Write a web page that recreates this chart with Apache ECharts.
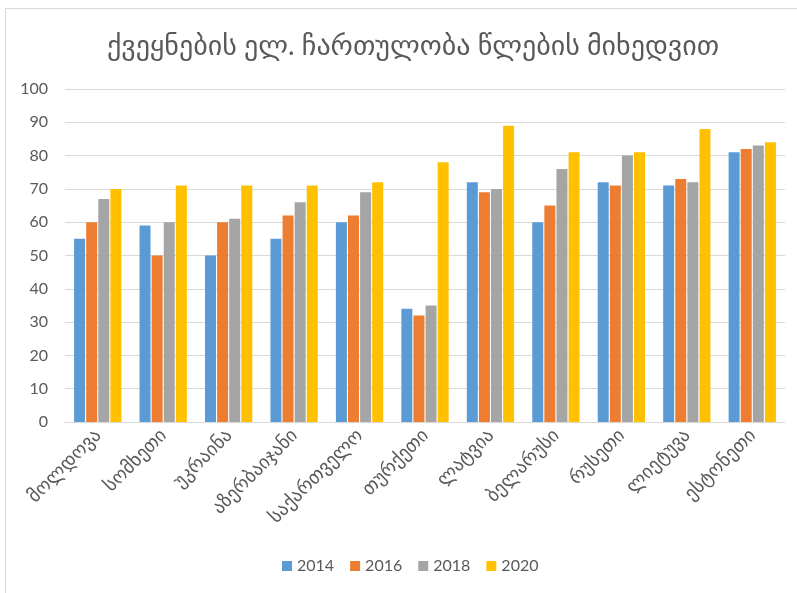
<!DOCTYPE html>
<html>
<head>
<meta charset="utf-8">
<script src="https://cdn.jsdelivr.net/npm/echarts@6/dist/echarts.min.js"></script>
<style>
  html, body { margin: 0; padding: 0; background: #ffffff; }
  #chart { width: 797px; height: 593px; }
</style>
</head>
<body>
<div id="chart"></div>
<script>
// Countries (categories)
const countries = ['მოლდოვა', 'სომხეთი', 'უკრაინა', 'აზერბაიჯანი', 'საქართველო', 'თურქეთი',
                   'ლატვია', 'ბელარუსი', 'რუსეთი', 'ლიეტუვა', 'ესტონეთი'];
const years = ['2014', '2016', '2018', '2020'];

// Engagement values per year
const v2014 = [55, 59, 50, 55, 60, 34, 72, 60, 72, 71, 81];
const v2016 = [60, 50, 60, 62, 62, 32, 69, 65, 71, 73, 82];
const v2018 = [67, 60, 61, 66, 69, 35, 70, 76, 80, 72, 83];
const v2020 = [70, 71, 71, 71, 72, 78, 89, 81, 81, 88, 84];

const colors = ['#5b9bd5', '#ed7d31', '#a5a5a5', '#ffc000'];
const seriesData = [v2014, v2016, v2018, v2020];

const textColor = '#595959';
const fontFam = "Lato, 'DejaVu Sans', sans-serif";

const chart = echarts.init(document.getElementById('chart'), null, { renderer: 'canvas' });
chart.setOption({
  backgroundColor: '#ffffff',
  animation: false,
  color: colors,
  graphic: [{
    type: 'rect',
    shape: { x: 5.5, y: 8.5, width: 900, height: 700 },
    style: { fill: 'none', stroke: '#d9d9d9', lineWidth: 1 },
    silent: true
  }],
  title: {
    text: 'ქვეყნების ელ. ჩართულობა წლების მიხედვით',
    left: 408,
    textAlign: 'center',
    top: 27,
    textStyle: { color: textColor, fontSize: 28, fontWeight: 'normal', fontFamily: fontFam }
  },
  legend: {
    data: years,
    bottom: 14,
    left: 277,
    itemWidth: 10,
    itemHeight: 10,
    itemGap: 16,
    icon: 'rect',
    textStyle: { color: textColor, fontSize: 16, fontFamily: fontFam }
  },
  grid: { left: 65, right: 12, top: 89, bottom: 171, containLabel: false },
  xAxis: {
    type: 'category',
    data: countries,
    axisLine: { lineStyle: { color: '#d9d9d9' } },
    axisTick: { show: false },
    axisLabel: {
      rotate: 45,
      color: textColor,
      fontSize: 19,
      fontFamily: fontFam,
      margin: 10,
      interval: 0
    }
  },
  yAxis: {
    type: 'value',
    min: 0,
    max: 100,
    interval: 10,
    axisLine: { show: false },
    axisTick: { show: false },
    splitLine: { lineStyle: { color: '#d9d9d9' } },
    axisLabel: { color: textColor, fontSize: 16, fontFamily: fontFam, margin: 17 }
  },
  series: years.map((y, i) => ({
    name: y,
    type: 'bar',
    data: seriesData[i],
    barWidth: 11,
    barGap: '10%',
    itemStyle: { color: colors[i] }
  }))
});
</script>
</body>
</html>
